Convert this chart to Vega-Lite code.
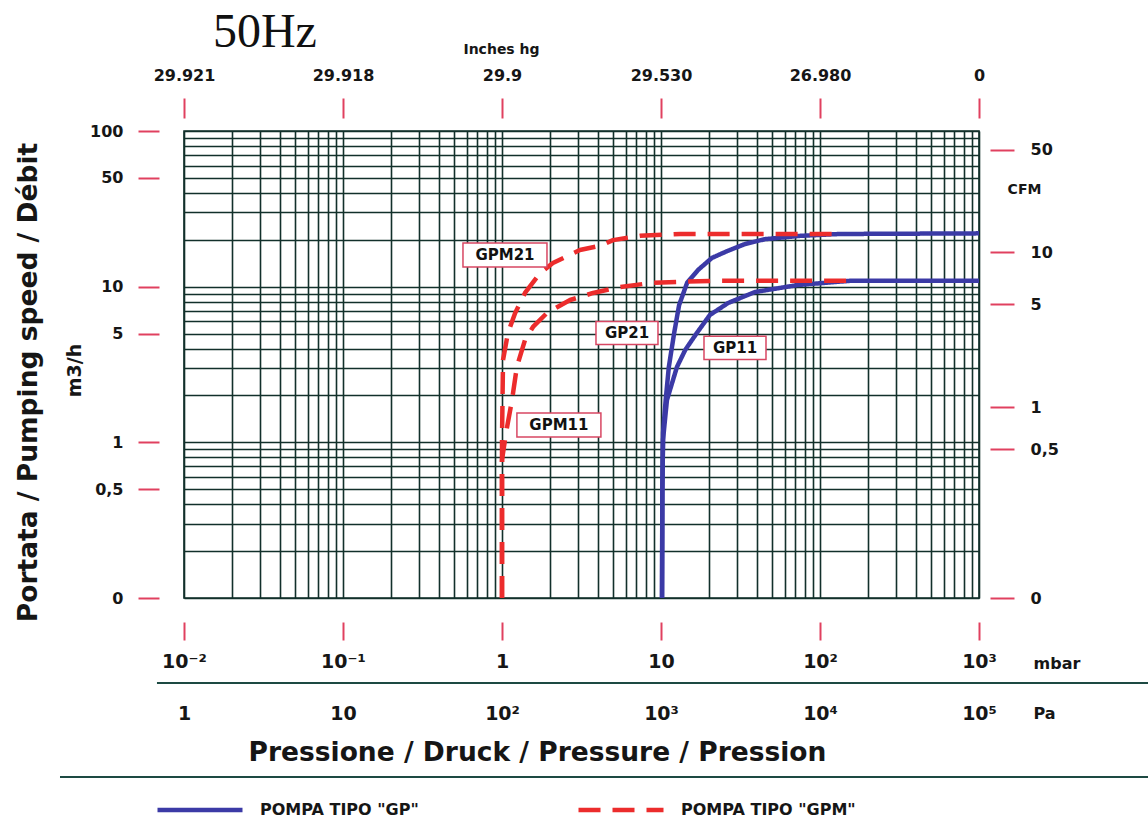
{
  "$schema": "https://vega.github.io/schema/vega-lite/v6.json",
  "width": 795,
  "height": 467,
  "autosize": {"type": "none"},
  "padding": {"left": 184, "top": 131, "right": 169, "bottom": 226},
  "background": "white",
  "datasets": {
    "curves": [
      {"curve": "GP11", "type": "GP", "p": 10.15, "q": 0.1},
      {"curve": "GP11", "type": "GP", "p": 10.2, "q": 0.5},
      {"curve": "GP11", "type": "GP", "p": 10.3, "q": 1.04},
      {"curve": "GP11", "type": "GP", "p": 10.9, "q": 1.87},
      {"curve": "GP11", "type": "GP", "p": 12.6, "q": 3.05},
      {"curve": "GP11", "type": "GP", "p": 14.2, "q": 3.92},
      {"curve": "GP11", "type": "GP", "p": 16.8, "q": 5.04},
      {"curve": "GP11", "type": "GP", "p": 20.3, "q": 6.58},
      {"curve": "GP11", "type": "GP", "p": 26.4, "q": 7.85},
      {"curve": "GP11", "type": "GP", "p": 39.0, "q": 9.24},
      {"curve": "GP11", "type": "GP", "p": 72.7, "q": 10.25},
      {"curve": "GP11", "type": "GP", "p": 154, "q": 10.9},
      {"curve": "GP11", "type": "GP", "p": 1000, "q": 10.9},
      {"curve": "GP21", "type": "GP", "p": 10.15, "q": 0.1},
      {"curve": "GP21", "type": "GP", "p": 10.2, "q": 0.5},
      {"curve": "GP21", "type": "GP", "p": 10.3, "q": 1.15},
      {"curve": "GP21", "type": "GP", "p": 10.7, "q": 1.87},
      {"curve": "GP21", "type": "GP", "p": 11.2, "q": 3.05},
      {"curve": "GP21", "type": "GP", "p": 12.1, "q": 5.04},
      {"curve": "GP21", "type": "GP", "p": 13.0, "q": 7.62},
      {"curve": "GP21", "type": "GP", "p": 14.6, "q": 10.6},
      {"curve": "GP21", "type": "GP", "p": 17.1, "q": 12.8},
      {"curve": "GP21", "type": "GP", "p": 20.9, "q": 15.3},
      {"curve": "GP21", "type": "GP", "p": 26.0, "q": 16.9},
      {"curve": "GP21", "type": "GP", "p": 33.8, "q": 18.8},
      {"curve": "GP21", "type": "GP", "p": 45.1, "q": 20.2},
      {"curve": "GP21", "type": "GP", "p": 74.8, "q": 21.2},
      {"curve": "GP21", "type": "GP", "p": 133, "q": 21.8},
      {"curve": "GP21", "type": "GP", "p": 1000, "q": 22.0},
      {"curve": "GPM11", "type": "GPM", "p": 1.0, "q": 0.1},
      {"curve": "GPM11", "type": "GPM", "p": 1.0, "q": 0.77},
      {"curve": "GPM11", "type": "GPM", "p": 1.06, "q": 1.15},
      {"curve": "GPM11", "type": "GPM", "p": 1.156, "q": 1.87},
      {"curve": "GPM11", "type": "GPM", "p": 1.24, "q": 3.05},
      {"curve": "GPM11", "type": "GPM", "p": 1.395, "q": 4.54},
      {"curve": "GPM11", "type": "GPM", "p": 1.566, "q": 5.51},
      {"curve": "GPM11", "type": "GPM", "p": 1.92, "q": 6.78},
      {"curve": "GPM11", "type": "GPM", "p": 2.68, "q": 8.21},
      {"curve": "GPM11", "type": "GPM", "p": 3.74, "q": 9.11},
      {"curve": "GPM11", "type": "GPM", "p": 5.53, "q": 9.95},
      {"curve": "GPM11", "type": "GPM", "p": 8.89, "q": 10.6},
      {"curve": "GPM11", "type": "GPM", "p": 21.2, "q": 10.9},
      {"curve": "GPM11", "type": "GPM", "p": 154, "q": 10.9},
      {"curve": "GPM21", "type": "GPM", "p": 1.0, "q": 0.1},
      {"curve": "GPM21", "type": "GPM", "p": 1.0, "q": 1.04},
      {"curve": "GPM21", "type": "GPM", "p": 1.015, "q": 3.38},
      {"curve": "GPM21", "type": "GPM", "p": 1.09, "q": 5.04},
      {"curve": "GPM21", "type": "GPM", "p": 1.21, "q": 6.78},
      {"curve": "GPM21", "type": "GPM", "p": 1.395, "q": 9.11},
      {"curve": "GPM21", "type": "GPM", "p": 1.733, "q": 12.2},
      {"curve": "GPM21", "type": "GPM", "p": 2.09, "q": 14.2},
      {"curve": "GPM21", "type": "GPM", "p": 3.09, "q": 17.2},
      {"curve": "GPM21", "type": "GPM", "p": 4.14, "q": 18.3},
      {"curve": "GPM21", "type": "GPM", "p": 4.99, "q": 19.9},
      {"curve": "GPM21", "type": "GPM", "p": 7.37, "q": 21.2},
      {"curve": "GPM21", "type": "GPM", "p": 13.2, "q": 21.8},
      {"curve": "GPM21", "type": "GPM", "p": 121, "q": 21.8}
    ],
    "labels": [
      {"label": "GPM21", "p": 1.044, "q": 16.0},
      {"label": "GP21", "p": 6.11, "q": 5.04},
      {"label": "GP11", "p": 29.2, "q": 4.04},
      {"label": "GPM11", "p": 2.28, "q": 1.29}
    ],
    "separators": [
      {"x0": 0.00676, "x1": 20000, "y": 0.02844},
      {"x0": 0.00166, "x1": 20000, "y": 0.00708}
    ],
    "heading": [
      {"text": "50Hz", "p": 0.0152, "q": 346}
    ]
  },
  "config": {
    "font": "DejaVu Sans",
    "view": {"stroke": "#12302b", "strokeWidth": 1.6},
    "axis": {
      "labelFont": "DejaVu Sans",
      "labelFontWeight": "bold",
      "labelColor": "#161616",
      "titleFont": "DejaVu Sans",
      "titleFontWeight": "bold",
      "titleColor": "#161616",
      "tickColor": "#e0405f",
      "tickWidth": 2,
      "domain": false,
      "grid": false,
      "labelFlush": false,
      "labelOverlap": false,
      "labelBound": false
    }
  },
  "resolve": {
    "scale": {"x": "independent", "y": "independent"},
    "axis": {"x": "independent", "y": "independent"}
  },
  "layer": [
    {
      "data": {"name": "separators"},
      "mark": {"type": "rule", "color": "#1d4a43", "strokeWidth": 2},
      "encoding": {
        "x": {
          "field": "x0", "type": "quantitative",
          "scale": {"type": "log", "domain": [0.01, 1000], "nice": false},
          "axis": {"orient": "bottom", "offset": 85, "labels": false, "ticks": false, "tickSize": 0, "values": [1],
            "title": "Pressione / Druck / Pressure / Pression", "titleFontSize": 26.5, "titleX": 353, "titleY": 69,
            "titleAlign": "center", "titleBaseline": "middle", "titleAngle": 0}
        },
        "x2": {"field": "x1"},
        "y": {
          "field": "y", "type": "quantitative",
          "scale": {"type": "log", "domain": [0.1, 100], "nice": false},
          "axis": null
        }
      }
    },
    {
      "data": {"name": "curves"},
      "mark": {"type": "line", "strokeWidth": 4.5, "strokeCap": "butt", "strokeJoin": "round"},
      "encoding": {
        "x": {
          "field": "p", "type": "quantitative",
          "scale": {"type": "log", "domain": [0.01, 1000], "nice": false},
          "axis": {"orient": "bottom", "offset": 24, "tickSize": 18, "labelPadding": 12, "labelFontSize": 19,
            "values": [0.01, 0.1, 1, 10, 100, 1000],
            "labelExpr": "datum.value < 0.05 ? '10⁻²' : datum.value < 0.5 ? '10⁻¹' : datum.value < 5 ? '1' : datum.value < 50 ? '10' : datum.value < 500 ? '10²' : '10³'",
            "title": "mbar", "titleX": 849, "titleY": 41, "titleAlign": "left", "titleBaseline": "middle", "titleFontSize": 16, "titleAngle": 0}
        },
        "y": {
          "field": "q", "type": "quantitative",
          "scale": {"type": "log", "domain": [0.1, 100], "nice": false},
          "axis": {"orient": "left", "offset": 25, "tickSize": 21, "labelPadding": 15, "labelFontSize": 16,
            "values": [0.1, 0.5, 1, 5, 10, 50, 100],
            "labelExpr": "datum.value < 0.2 ? '0' : datum.value < 0.7 ? '0,5' : datum.value < 2 ? '1' : datum.value < 7 ? '5' : datum.value < 20 ? '10' : datum.value < 70 ? '50' : '100'",
            "title": "m3/h", "titleX": -85, "titleY": 239, "titleAngle": 270, "titleAlign": "center", "titleBaseline": "middle", "titleFontSize": 19}
        },
        "detail": {"field": "curve"},
        "color": {
          "field": "type", "type": "nominal",
          "scale": {"domain": ["GP", "GPM"], "range": ["#3b3aa6", "#ec2c2c"]},
          "legend": {"orient": "none", "legendX": -29, "legendY": 634, "direction": "horizontal", "title": null,
            "symbolType": "stroke", "symbolSize": 7225, "symbolStrokeWidth": 4.5,
            "labelFont": "DejaVu Sans", "labelFontWeight": "bold", "labelFontSize": 16, "labelColor": "#161616",
            "labelOffset": 15, "columnPadding": 150, "labelLimit": 400,
            "labelExpr": "'POMPA TIPO \"' + datum.label + '\"'"}
        },
        "strokeDash": {
          "field": "type", "type": "nominal",
          "scale": {"domain": ["GP", "GPM"], "range": [[1, 0], [22, 12]]},
          "legend": {"orient": "none", "legendX": -29, "legendY": 634, "direction": "horizontal", "title": null,
            "symbolType": "stroke", "symbolSize": 7225, "symbolStrokeWidth": 4.5,
            "labelFont": "DejaVu Sans", "labelFontWeight": "bold", "labelFontSize": 16, "labelColor": "#161616",
            "labelOffset": 15, "columnPadding": 150, "labelLimit": 400,
            "labelExpr": "'POMPA TIPO \"' + datum.label + '\"'"}
        },
        "order": {"value": null}
      }
    },
    {
      "data": {"name": "labels"},
      "transform": [{"filter": "length(datum.label) > 4"}],
      "mark": {"type": "point", "shape": "M-2.1,-0.6H2.1V0.6H-2.1Z", "size": 1600, "filled": true, "fill": "white", "fillOpacity": 1, "stroke": "#d84763", "strokeWidth": 1.5, "opacity": 1},
      "encoding": {
        "x": {
          "field": "p", "type": "quantitative",
          "scale": {"type": "log", "domain": [0.01, 1000], "nice": false},
          "axis": {"orient": "bottom", "grid": true, "gridColor": "#12302b", "gridWidth": 1.6, "gridOpacity": 1,
            "labels": false, "ticks": false, "domain": false, "title": null,
            "values": [0.01, 0.02, 0.03, 0.04, 0.05, 0.06, 0.07, 0.08, 0.09, 0.1, 0.2, 0.3, 0.4, 0.5, 0.6, 0.7, 0.8, 0.9, 1, 2, 3, 4, 5, 6, 7, 8, 9, 10, 20, 30, 40, 50, 60, 70, 80, 90, 100, 200, 300, 400, 500, 600, 700, 800, 900, 1000]}
        },
        "y": {
          "field": "q", "type": "quantitative",
          "scale": {"type": "log", "domain": [0.1, 100], "nice": false},
          "axis": {"orient": "left", "grid": true, "gridColor": "#12302b", "gridWidth": 1.6, "gridOpacity": 1,
            "labels": false, "ticks": false, "domain": false, "title": null,
            "values": [0.1, 0.2, 0.3, 0.4, 0.5, 0.6, 0.7, 0.8, 0.9, 1, 2, 3, 4, 5, 6, 7, 8, 9, 10, 20, 30, 40, 50, 60, 70, 80, 90, 100]}
        }
      }
    },
    {
      "data": {"name": "labels"},
      "transform": [{"filter": "length(datum.label) <= 4"}],
      "mark": {"type": "point", "shape": "M-1.55,-0.58H1.55V0.58H-1.55Z", "size": 1600, "filled": true, "fill": "white", "fillOpacity": 1, "stroke": "#d84763", "strokeWidth": 1.5, "opacity": 1},
      "encoding": {
        "x": {
          "field": "p", "type": "quantitative",
          "scale": {"type": "log", "domain": [0.01, 1000], "nice": false},
          "axis": {"orient": "bottom", "offset": 85, "ticks": false, "tickSize": 0, "labelPadding": 21, "labelFontSize": 19,
            "values": [0.01, 0.1, 1, 10, 100, 1000],
            "labelExpr": "datum.value < 0.05 ? '1' : datum.value < 0.5 ? '10' : datum.value < 5 ? '10²' : datum.value < 50 ? '10³' : datum.value < 500 ? '10⁴' : '10⁵'",
            "title": "Pa", "titleX": 849, "titleY": 30, "titleAlign": "left", "titleBaseline": "middle", "titleFontSize": 16, "titleAngle": 0}
        },
        "y": {
          "field": "q", "type": "quantitative",
          "scale": {"type": "log", "domain": [0.1, 100], "nice": false},
          "axis": {"orient": "left", "labels": false, "ticks": false, "domain": false, "values": [1],
            "title": "Portata / Pumping speed / Débit", "titleX": -156, "titleY": 251, "titleAngle": 270,
            "titleAlign": "center", "titleBaseline": "middle", "titleFontSize": 26.5}
        }
      }
    },
    {
      "data": {"name": "labels"},
      "mark": {"type": "text", "font": "DejaVu Sans", "fontWeight": "bold", "fontSize": 15, "color": "#111111"},
      "encoding": {
        "x": {
          "field": "p", "type": "quantitative",
          "scale": {"type": "log", "domain": [0.01, 1000], "nice": false},
          "axis": {"orient": "top", "offset": 13, "tickSize": 20, "labelPadding": 15, "labelFontSize": 16,
            "values": [0.01, 0.1, 1, 10, 100, 1000],
            "labelExpr": "datum.value < 0.05 ? '29.921' : datum.value < 0.5 ? '29.918' : datum.value < 5 ? '29.9' : datum.value < 50 ? '29.530' : datum.value < 500 ? '26.980' : '0'",
            "title": "Inches hg", "titleX": 317, "titleY": -69, "titleAlign": "center", "titleBaseline": "middle", "titleFontSize": 14, "titleAngle": 0}
        },
        "y": {
          "field": "q", "type": "quantitative",
          "scale": {"type": "log", "domain": [0.1, 100], "nice": false},
          "axis": {"orient": "right", "offset": 11, "tickSize": 24, "labelPadding": 16, "labelFontSize": 16,
            "values": [76, 16.6, 7.7, 1.68, 0.9, 0.1],
            "labelExpr": "datum.value > 50 ? '50' : datum.value > 12 ? '10' : datum.value > 5 ? '5' : datum.value > 1.2 ? '1' : datum.value > 0.5 ? '0,5' : '0'",
            "title": "CFM", "titleX": 34, "titleY": 58, "titleAngle": 0, "titleAlign": "center", "titleBaseline": "middle", "titleFontSize": 14}
        },
        "text": {"field": "label"}
      }
    },
    {
      "data": {"name": "heading"},
      "mark": {"type": "text", "font": "Liberation Serif", "fontSize": 48, "fontWeight": "normal", "color": "#111111", "align": "left", "baseline": "alphabetic"},
      "encoding": {
        "x": {"field": "p", "type": "quantitative", "scale": {"type": "log", "domain": [0.01, 1000], "nice": false}, "axis": null},
        "y": {"field": "q", "type": "quantitative", "scale": {"type": "log", "domain": [0.1, 100], "nice": false}, "axis": null},
        "text": {"field": "text"}
      }
    }
  ]
}
